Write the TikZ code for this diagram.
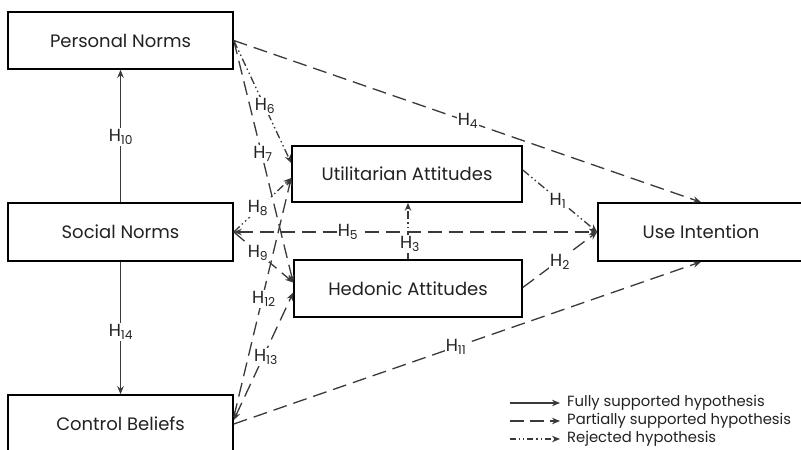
\documentclass[tikz,border=0pt]{standalone}
\usepackage{fontspec}
\setmainfont{Poppins}
\usetikzlibrary{arrows.meta}
\definecolor{lncol}{HTML}{3A3A3A}
\definecolor{txtcol}{HTML}{222222}
\begin{document}
\begin{tikzpicture}[x=1pt,y=-1pt,
  box/.style={draw=black,line width=1.6pt,fill=white,inner sep=0pt,text=txtcol,font=\fontsize{18}{21}\selectfont},
  conn/.style={draw=lncol,line width=1.3pt,-{Stealth[length=8pt,width=6.5pt]}},
  twoway/.style={conn,{Stealth[length=8pt,width=6.5pt]}-{Stealth[length=8pt,width=6.5pt]}},
  full/.style={},
  part/.style={dash pattern=on 14pt off 7pt},
  rej/.style={dash pattern=on 8pt off 3pt on 1.5pt off 3pt on 1.5pt off 3pt},
  lab/.style={fill=white,inner sep=1pt,text=txtcol,font=\fontsize{17.5}{20}\selectfont},
  legtext/.style={anchor=west,inner sep=0pt,text=txtcol,font=\fontsize{14.8}{17}\selectfont}
]
\useasboundingbox (0,0) rectangle (801,450);
\clip (0,0) rectangle (801,450);
\fill[white] (0,0) rectangle (801,450);

% boxes
\node[box,minimum width=225pt,minimum height=57pt] (PN) at (120.5,40.5) {Personal Norms};
\node[box,minimum width=225pt,minimum height=58pt] (SN) at (120.5,232) {Social Norms};
\node[box,minimum width=225pt,minimum height=58pt] (CB) at (120.5,424) {Control Beliefs};
\node[box,minimum width=230pt,minimum height=56pt] (UA) at (407,174) {Utilitarian Attitudes};
\node[box,minimum width=228pt,minimum height=57pt] (HA) at (408,288.5) {Hedonic Attitudes};
\node[box,minimum width=206pt,minimum height=58pt] (UI) at (701,232) {Use Intention};

% connectors
\draw[conn,full] (SN.north) -- (PN.south);
\draw[conn,full] (SN.south) -- (CB.north);
\draw[conn,part] (PN.east) -- (UI.north);
\draw[conn,rej] (PN.east) -- ([yshift=11pt]UA.west);
\draw[conn,part] (PN.east) -- ([yshift=6pt]HA.west);
\draw[conn,rej] (SN.east) -- ([yshift=-4pt]UA.west);
\draw[conn,part] (SN.east) -- ([yshift=6pt]HA.west);
\draw[twoway,part] (SN.east) -- (UI.west);
\draw[conn,part] ([yshift=7pt]CB.east) -- ([yshift=-4pt]UA.west);
\draw[twoway,part] ([yshift=4pt]CB.east) -- ([yshift=-4pt]HA.west);
\draw[conn,part] (CB.east) -- (UI.south);
\draw[conn,rej] ([yshift=4pt]UA.east) -- (UI.west);
\draw[conn,part] ([yshift=1pt]HA.east) -- (UI.west);
\draw[conn,rej] (HA.north) -- (HA.north |- UA.south);

% labels
\node[lab] (L10) at (121,137) {H\textsubscript{10}};
\node[lab] (L14) at (121,332) {H\textsubscript{14}};
\node[lab] (L4) at (468,121) {H\textsubscript{4}};
\node[lab] (L6) at (265,106) {H\textsubscript{6}};
\node[lab] (L7) at (263,154) {H\textsubscript{7}};
\node[lab] (L8) at (258,208) {H\textsubscript{8}};
\node[lab] (L9) at (258,253) {H\textsubscript{9}};
\node[lab] (L12) at (264,299) {H\textsubscript{12}};
\node[lab] (L13) at (266,357) {H\textsubscript{13}};
\node[lab] (L11) at (456,347) {H\textsubscript{11}};
\node[lab] (L5) at (348,232) {H\textsubscript{5}};
\node[lab] (L3) at (410,244) {H\textsubscript{3}};
\node[lab] (L1) at (558,201) {H\textsubscript{1}};
\node[lab] (L2) at (560,262) {H\textsubscript{2}};

% legend
\coordinate (a1) at (510,403); \coordinate (b1) at (560,403);
\coordinate (a2) at (510,421); \coordinate (b2) at (560,421);
\coordinate (a3) at (510,439); \coordinate (b3) at (560,439);
\draw[conn,full] (a1) -- (b1);
\draw[conn,dash pattern=on 14pt off 6pt] (a2) -- (b2);
\draw[conn,dash pattern=on 6pt off 3pt on 1.2pt off 3pt on 1.2pt off 3pt] (a3) -- (b3);
\node[legtext] (t1) at (567,403) {Fully supported hypothesis};
\node[legtext] (t2) at (567,421) {Partially supported hypothesis};
\node[legtext] (t3) at (567,439) {Rejected hypothesis};
\end{tikzpicture}
\end{document}
